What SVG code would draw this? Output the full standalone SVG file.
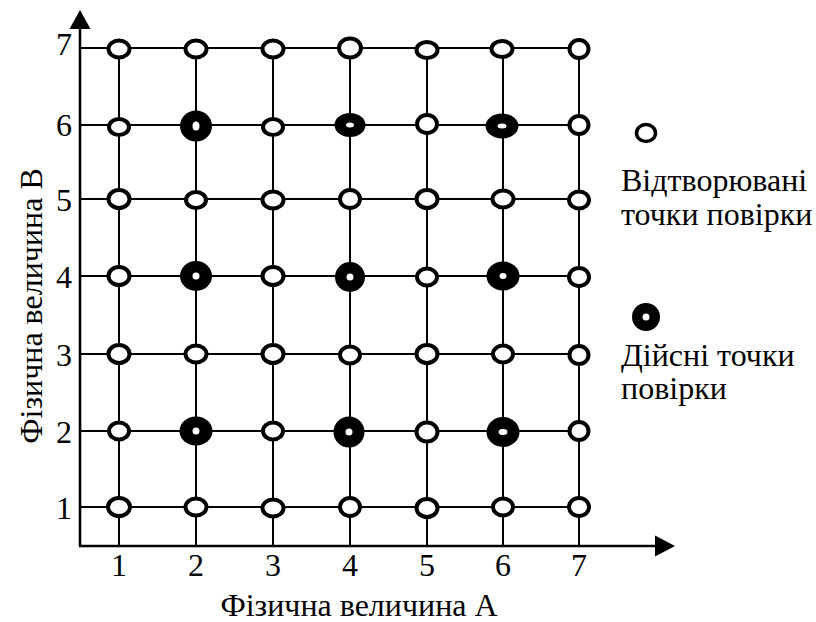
<svg xmlns="http://www.w3.org/2000/svg" width="816" height="622" viewBox="0 0 816 622">
<style>
.g{stroke:#000;stroke-width:2;fill:none}
.ax{stroke:#000;stroke-width:2.6;fill:none}
.h{fill:#fff;stroke:#000;stroke-width:4}
.f{fill:#000}
.o{fill:#fff}
text{font-family:"Liberation Serif","Times New Roman",serif;font-size:32px;fill:#000}
.c{text-anchor:middle}
</style>
<rect width="816" height="622" fill="#fff"/>
<g id="connectors">
<path class="g" d="M80 48H579M80 125H579M80 199H579M80 276H579M80 354H579M80 431H579M80 507H579"/>
<path class="g" d="M119 48V546M196 48V546M273 48V546M350 48V546M427 48V546M503 48V546M579 48V546"/>
<path class="ax" d="M80 546V26M79 546H657"/>
<polygon points="80,10 69.5,29 90.5,29" fill="#000"/>
<polygon points="675,546 655,535.5 655,556.5" fill="#000"/>
</g>
<g id="axis-labels">
<text class="c" x="119" y="576">1</text>
<text class="c" x="196" y="576">2</text>
<text class="c" x="273" y="576">3</text>
<text class="c" x="350" y="576">4</text>
<text class="c" x="427" y="576">5</text>
<text class="c" x="503" y="576">6</text>
<text class="c" x="579" y="576">7</text>
<text class="c" x="64" y="55">7</text>
<text class="c" x="64" y="136">6</text>
<text class="c" x="64" y="211">5</text>
<text class="c" x="64" y="288">4</text>
<text class="c" x="64" y="366">3</text>
<text class="c" x="64" y="443">2</text>
<text class="c" x="64" y="519">1</text>
<text class="c" x="359" y="616">Фізична величина А</text>
<text class="c" transform="translate(42 306) rotate(-90)">Фізична величина В</text>
</g>
<g id="r7">
<ellipse id="n1-7" class="h" cx="119" cy="49" rx="10.5" ry="8.5"/>
<ellipse id="n2-7" class="h" cx="196" cy="49" rx="10.5" ry="8.5"/>
<ellipse id="n3-7" class="h" cx="273" cy="49" rx="10.5" ry="8.5"/>
<ellipse id="n4-7" class="h" cx="350" cy="48" rx="11" ry="9.5"/>
<ellipse id="n5-7" class="h" cx="427" cy="50" rx="10.5" ry="8"/>
<ellipse id="n6-7" class="h" cx="502" cy="49" rx="10.5" ry="8"/>
<ellipse id="n7-7" class="h" cx="579" cy="49" rx="9.5" ry="9"/>
</g>
<g id="r6">
<ellipse id="n1-6" class="h" cx="119" cy="127" rx="10" ry="8"/>
<g id="n2-6"><ellipse class="f" cx="196" cy="126" rx="16" ry="15.5"/><ellipse class="o" cx="196" cy="126" rx="3.5" ry="4.5"/></g>
<ellipse id="n3-6" class="h" cx="273" cy="127" rx="10" ry="8"/>
<g id="n4-6"><ellipse class="f" cx="350" cy="125" rx="15.5" ry="12"/><ellipse class="o" cx="350" cy="125" rx="4" ry="2.5"/></g>
<ellipse id="n5-6" class="h" cx="427" cy="124" rx="10" ry="9"/>
<g id="n6-6"><ellipse class="f" cx="502" cy="126" rx="16.5" ry="12.5"/><ellipse class="o" cx="502" cy="126" rx="4.5" ry="2.5"/></g>
<ellipse id="n7-6" class="h" cx="579" cy="125" rx="9.5" ry="9"/>
</g>
<g id="r5">
<ellipse id="n1-5" class="h" cx="119" cy="199" rx="10.5" ry="9"/>
<ellipse id="n2-5" class="h" cx="196" cy="200" rx="10" ry="8"/>
<ellipse id="n3-5" class="h" cx="273" cy="200" rx="10.5" ry="8.5"/>
<ellipse id="n4-5" class="h" cx="350" cy="199" rx="10" ry="9"/>
<ellipse id="n5-5" class="h" cx="427" cy="199" rx="10.5" ry="9"/>
<ellipse id="n6-5" class="h" cx="503" cy="199" rx="10.5" ry="8.5"/>
<ellipse id="n7-5" class="h" cx="579" cy="200" rx="10" ry="8.5"/>
</g>
<g id="r4">
<ellipse id="n1-4" class="h" cx="119" cy="276" rx="10.5" ry="9"/>
<g id="n2-4"><ellipse class="f" cx="196" cy="276" rx="16" ry="15"/><ellipse class="o" cx="196" cy="276" rx="3.5" ry="3.5"/></g>
<ellipse id="n3-4" class="h" cx="273" cy="276" rx="10.5" ry="9"/>
<g id="n4-4"><ellipse class="f" cx="350" cy="277" rx="15" ry="15"/><ellipse class="o" cx="350" cy="277" rx="3.5" ry="3.5"/></g>
<ellipse id="n5-4" class="h" cx="427" cy="277" rx="10" ry="8.5"/>
<g id="n6-4"><ellipse class="f" cx="503" cy="276" rx="16.5" ry="14.5"/><ellipse class="o" cx="503" cy="276" rx="3.5" ry="3"/></g>
<ellipse id="n7-4" class="h" cx="579" cy="277" rx="10" ry="9"/>
</g>
<g id="r3">
<ellipse id="n1-3" class="h" cx="119" cy="354" rx="10.5" ry="9"/>
<ellipse id="n2-3" class="h" cx="196" cy="354" rx="10.5" ry="8.5"/>
<ellipse id="n3-3" class="h" cx="273" cy="354" rx="10.5" ry="9"/>
<ellipse id="n4-3" class="h" cx="350" cy="355" rx="10" ry="8.5"/>
<ellipse id="n5-3" class="h" cx="427" cy="354" rx="10.5" ry="9"/>
<ellipse id="n6-3" class="h" cx="503" cy="354" rx="10" ry="8.5"/>
<ellipse id="n7-3" class="h" cx="579" cy="355" rx="9.5" ry="9"/>
</g>
<g id="r2">
<ellipse id="n1-2" class="h" cx="119" cy="431" rx="10" ry="8.5"/>
<g id="n2-2"><ellipse class="f" cx="196" cy="431" rx="16.5" ry="14.5"/><ellipse class="o" cx="196" cy="431" rx="3.5" ry="3.5"/></g>
<ellipse id="n3-2" class="h" cx="273" cy="431" rx="10" ry="8.5"/>
<g id="n4-2"><ellipse class="f" cx="349" cy="432" rx="15.5" ry="15.5"/><ellipse class="o" cx="349" cy="432" rx="3.5" ry="3.5"/></g>
<ellipse id="n5-2" class="h" cx="427" cy="432" rx="10.5" ry="9.5"/>
<g id="n6-2"><ellipse class="f" cx="503" cy="432" rx="16.5" ry="15"/><ellipse class="o" cx="503" cy="432" rx="4.5" ry="3"/></g>
<ellipse id="n7-2" class="h" cx="579" cy="431" rx="9.5" ry="9"/>
</g>
<g id="r1">
<ellipse id="n1-1" class="h" cx="119" cy="507" rx="11" ry="9"/>
<ellipse id="n2-1" class="h" cx="196" cy="507" rx="10.5" ry="8.5"/>
<ellipse id="n3-1" class="h" cx="273" cy="508" rx="10.5" ry="8.5"/>
<ellipse id="n4-1" class="h" cx="350" cy="507" rx="10" ry="9"/>
<ellipse id="n5-1" class="h" cx="427" cy="508" rx="10.5" ry="9"/>
<ellipse id="n6-1" class="h" cx="503" cy="507" rx="10" ry="8.5"/>
<ellipse id="n7-1" class="h" cx="579" cy="507" rx="10" ry="9"/>
</g>
<g id="legend-reproduced">
<ellipse class="h" cx="646" cy="133" rx="9.5" ry="8.5" style="stroke-width:3.5"/>
<text x="621" y="191">Відтворювані</text>
<text x="621" y="225">точки повірки</text>
</g>
<g id="legend-actual">
<circle class="f" cx="646" cy="317" r="14"/>
<circle class="o" cx="646" cy="317" r="3.5"/>
<text x="621" y="366">Дійсні точки</text>
<text x="621" y="399">повірки</text>
</g>
</svg>
